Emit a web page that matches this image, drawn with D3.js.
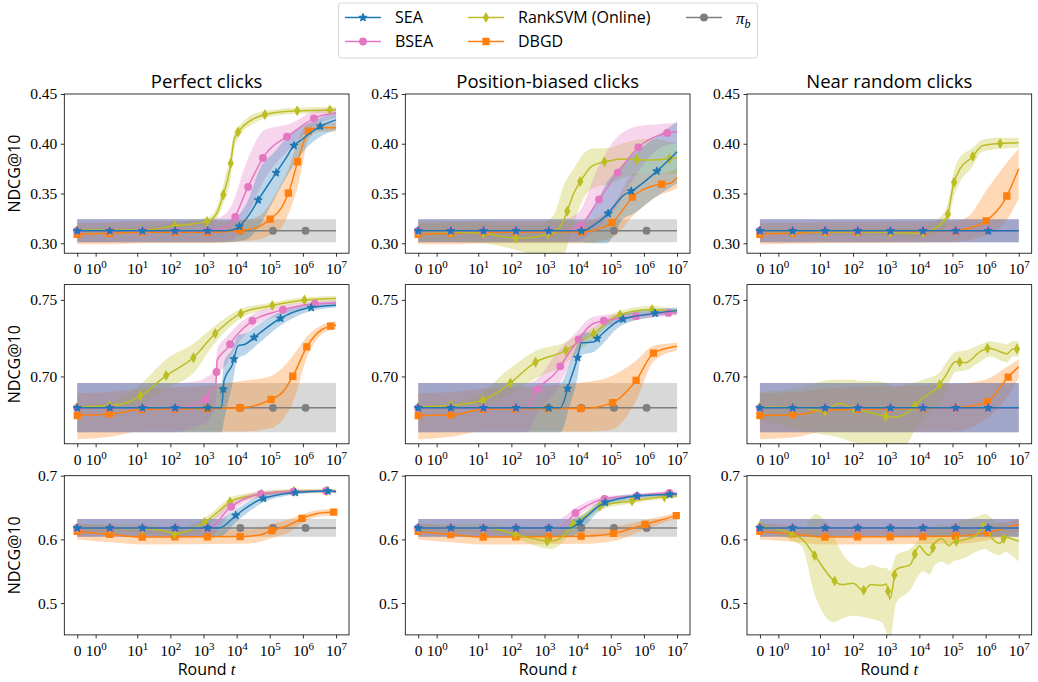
<!DOCTYPE html>
<html>
<head>
<meta charset="utf-8">
<script src="https://cdn.jsdelivr.net/npm/d3@7"></script>
<style>
  body { margin: 0; background: #fff; }
  text { fill: #000; }
</style>
</head>
<body>
<svg id="chart" width="1038" height="682"></svg>
<script>
// ---- data ----
const columns = ['Perfect clicks', 'Position-biased clicks', 'Near random clicks']
const xTicks = [0, 1, 10, 100, 1e3, 1e4, 1e5, 1e6, 1e7]
const yTicks = [[0.30, 0.35, 0.40, 0.45], [0.70, 0.75], [0.5, 0.6, 0.7]]
const yDomains = [[0.29, 0.45], [0.656, 0.76], [0.45, 0.70]]
const yFormats = ['.2f', '.2f', '.1f']

// pi_b baseline, one per row (constant over t)
const baseMean = [0.3125, 0.6795, 0.618]
const baseLo = [0.301, 0.6635, 0.604]
const baseHi = [0.324, 0.6958, 0.632]

// each row: [t, mean, lo, hi]
// row 1, perfect clicks
const sea_p1 = [[0, .3125, .301, .324], [5000, .3125, .301, .324], [1e4, .315, .302, .327], [2e4, .325, .304, .34],
  [5e4, .346, .318, .375], [1.4e5, .3685, .345, .392], [3e5, .385, .365, .405], [5.2e5, .3977, .378, .412],
  [1e6, .405, .392, .418], [2.7e6, .4158, .405, .425], [1e7, .424, .414, .432]]
const bsea_p1 = [[0, .3125, .301, .324], [1000, .3125, .301, .324], [3000, .314, .302, .326], [7.5e3, .322, .303, .34],
  [1.9e4, .3517, .325, .38], [7.2e4, .389, .365, .414], [4e5, .409, .395, .42], [2.7e6, .427, .42, .434], [1e7, .431, .426, .436]]
const rsvm_p1 = [[0, .313, .310, .316], [13, .313, .310, .316], [138, .3175, .314, .321], [1300, .322, .318, .326],
  [2500, .33, .325, .336], [3800, .347, .338, .357], [6300, .375, .362, .388], [8500, .405, .395, .412],
  [1.26e4, .414, .408, .419], [3.2e4, .425, .42, .43], [7.2e4, .4295, .426, .433], [5.2e5, .433, .43, .436], [1e7, .434, .431, .437]]
const dbgd_p1 = [[0, .309, .299, .320], [2, .310, .299, .321], [13, .311, .300, .322], [1400, .311, .300, .322],
  [1.4e4, .313, .302, .323], [5e4, .317, .304, .328], [1e5, .324, .308, .34], [2.2e5, .335, .315, .36],
  [3.7e5, .351, .33, .375], [7.4e5, .385, .36, .405], [1.5e6, .413, .405, .42], [3e6, .416, .412, .421], [1e7, .416, .412, .421]]

// row 1, position-biased clicks
const sea_b1 = [[0, .3125, .301, .324], [1.5e4, .3125, .301, .324], [3e4, .318, .30, .335], [7.3e4, .328, .30, .36],
  [2.4e5, .348, .325, .38], [5e5, .354, .33, .39], [1.95e6, .3695, .345, .405], [1e7, .392, .36, .422]]
const bsea_b1 = [[0, .3125, .301, .324], [3e3, .3125, .301, .324], [1e4, .3155, .302, .33], [4e4, .342, .315, .375],
  [1.4e5, .368, .335, .405], [7.7e5, .398, .375, .418], [4e6, .410, .398, .42], [1e7, .412, .40, .421]]
const rsvm_b1 = [[0, .312, .302, .322], [13, .310, .300, .321], [150, .305, .293, .318], [500, .306, .288, .318],
  [1e3, .3085, .285, .321], [2e3, .310, .285, .33], [4e3, .325, .29, .36], [7.6e3, .35, .32, .375],
  [1.5e4, .367, .345, .39], [2.7e4, .3775, .355, .395], [1e5, .383, .36, .396], [2.1e5, .3846, .365, .40],
  [1.5e6, .3836, .37, .405], [1e7, .386, .37, .40]]
const dbgd_b1 = [[0, .309, .299, .320], [2, .310, .299, .321], [13, .311, .300, .322], [1.4e4, .3115, .300, .322],
  [1e5, .320, .305, .335], [5.5e5, .349, .33, .37], [2.8e6, .359, .348, .37], [6e6, .360, .352, .372], [1e7, .366, .355, .376]]

// row 1, near random clicks
const sea_r1 = [[0, .3125, .301, .324], [1e7, .3125, .301, .324]]
const bsea_r1 = [[0, .3125, .301, .324], [1e7, .3125, .301, .324]]
const rsvm_r1 = [[0, .312, .309, .315], [1e3, .311, .307, .315], [1e4, .310, .306, .315], [3e4, .315, .309, .322],
  [7e4, .3275, .318, .338], [1.06e5, .3585, .345, .37], [1.7e5, .375, .362, .387], [3.8e5, .386, .376, .395],
  [8e5, .398, .392, .404], [2.8e6, .4003, .395, .406], [1e7, .401, .396, .406]]
const dbgd_r1 = [[0, .309, .299, .320], [13, .311, .300, .321], [1e5, .312, .301, .322], [3e5, .315, .303, .327],
  [1e6, .322, .308, .352], [3.7e6, .343, .32, .378], [1e7, .375, .345, .395]]

// row 2, perfect clicks
const sea_p2 = [[0, .6795, .6635, .6958], [3.5e3, .6795, .6635, .6958], [4.2e3, .6976, .672, .71], [7.5e3, .708, .695, .718],
  [1.1e4, .720, .712, .727], [1.8e4, .721, .714, .728], [3.8e4, .7264, .72, .733], [2e5, .7377, .733, .742],
  [1.3e6, .7445, .742, .747], [1e7, .7465, .745, .749]]
const bsea_p2 = [[0, .6795, .6635, .6958], [138, .6795, .6635, .6958], [700, .6824, .668, .697], [1.3e3, .686, .670, .700],
  [1.8e3, .692, .675, .702], [2.3e3, .692, .68, .705], [2.6e3, .7108, .70, .718], [5e3, .718, .708, .726],
  [1e4, .727, .72, .733], [2.7e4, .7357, .731, .740], [2e5, .743, .740, .746], [1.9e6, .7474, .745, .749], [1e7, .748, .746, .750]]
const rsvm_p2 = [[0, .680, .679, .681], [2, .6813, .679, .684], [5, .683, .680, .688], [13, .6877, .682, .695],
  [73, .7004, .692, .711], [540, .713, .703, .722], [1.9e3, .7264, .720, .732], [1.35e4, .7412, .738, .744],
  [1e5, .746, .744, .748], [1e6, .7498, .748, .7515], [1e7, .751, .749, .7525]]
const dbgd_p2 = [[0, .6745, .659, .689], [2, .6758, .661, .690], [13, .6784, .664, .692], [138, .6787, .664, .693],
  [1.4e3, .679, .664, .694], [1.4e4, .6795, .664, .697], [1e5, .6846, .666, .70], [2.5e5, .69, .672, .706],
  [5.2e5, .701, .684, .714], [1.3e6, .7192, .712, .726], [4e6, .731, .728, .734], [1e7, .7335, .731, .736]]

// row 2, position-biased clicks
const sea_b2 = [[0, .6795, .6635, .6958], [3e3, .6795, .6635, .6958], [5.6e3, .6958, .68, .708], [1e4, .7125, .70, .722],
  [1.3e4, .722, .714, .728], [3e4, .7225, .716, .729], [4e4, .725, .718, .731], [2e5, .737, .733, .741],
  [2e6, .7412, .739, .744], [1e7, .743, .741, .745]]
const bsea_b2 = [[0, .6795, .6635, .6958], [300, .6795, .6635, .6958], [570, .6905, .675, .698], [2.1e3, .702, .69, .714],
  [7.5e3, .7196, .712, .727], [3e4, .7346, .73, .739], [2e5, .738, .735, .741], [3e6, .741, .739, .743], [1e7, .742, .740, .744]]
const rsvm_b2 = [[0, .680, .679, .681], [2, .6813, .680, .683], [13.5, .6844, .681, .690], [76, .6943, .687, .704],
  [570, .7097, .699, .717], [4e3, .7165, .708, .722], [1e4, .722, .716, .727], [3e4, .728, .724, .732],
  [1.45e5, .7394, .737, .742], [1.5e6, .7438, .742, .746], [1e7, .742, .740, .744]]
const dbgd_b2 = [[0, .6745, .659, .689], [2, .675, .661, .690], [13, .6785, .664, .692], [1.4e3, .679, .664, .694],
  [1.4e4, .679, .664, .696], [1e5, .6824, .665, .70], [5.5e5, .6967, .683, .71], [2e6, .7154, .71, .72], [1e7, .7198, .717, .722]]

// row 2, near random clicks
const sea_r2 = [[0, .6795, .6635, .6958], [1e7, .6795, .6635, .6958]]
const bsea_r2 = [[0, .6795, .6635, .6958], [1e7, .6795, .6635, .6958]]
const rsvm_r2 = [[0, .680, .672, .690], [2.7, .6795, .665, .693], [12.5, .6773, .662, .697], [40, .6825, .660, .698],
  [100, .679, .657, .698], [150, .678, .656, .697], [400, .676, .655, .697], [1e3, .6738, .652, .696],
  [2e3, .6735, .650, .693], [4e3, .676, .655, .695], [7.5e3, .681, .665, .696], [1.3e4, .686, .672, .698],
  [3.8e4, .6936, .683, .702], [6e4, .700, .69, .708], [1.26e5, .7097, .703, .716], [2.5e5, .709, .704, .717],
  [7.2e5, .7165, .710, .721], [1.3e6, .7185, .713, .723], [2.5e6, .7165, .711, .722], [4.5e6, .7148, .709, .721],
  [6.5e6, .718, .713, .723], [1e7, .718, .713, .723]]
const dbgd_r2 = [[0, .6745, .659, .689], [2.7, .6753, .661, .690], [12.5, .678, .664, .692], [1e5, .6795, .664, .695],
  [1e6, .683, .672, .698], [5e6, .700, .688, .707], [1e7, .7064, .699, .711]]

// row 3, perfect clicks
const sea_p3 = [[0, .618, .604, .632], [3e3, .618, .604, .632], [1e4, .6387, .628, .648], [5e4, .6623, .655, .669],
  [5.2e5, .6733, .670, .677], [5e6, .676, .674, .678], [1e7, .675, .673, .677]]
const bsea_p3 = [[0, .618, .604, .632], [1.5e3, .618, .604, .632], [6e3, .649, .64, .658], [5e4, .671, .667, .675],
  [5.2e5, .675, .672, .678], [1e7, .676, .674, .678]]
const rsvm_p3 = [[0, .618, .612, .624], [13, .617, .611, .623], [60, .614, .607, .62], [138, .609, .603, .616],
  [400, .615, .608, .622], [1e3, .6257, .618, .632], [3e3, .645, .637, .652], [6.7e3, .66, .654, .666],
  [2e4, .667, .662, .672], [5e4, .671, .667, .675], [5.2e5, .6754, .672, .679], [1e7, .676, .673, .679]]
const dbgd_p3 = [[0, .6125, .600, .625], [2, .6073, .595, .62], [13, .6037, .592, .615], [1.4e4, .6045, .593, .615],
  [5e4, .607, .596, .618], [1e5, .6126, .601, .623], [4e5, .623, .612, .632], [1e6, .6335, .627, .64],
  [3e6, .641, .636, .646], [1e7, .643, .638, .648]]

// row 3, position-biased clicks
const sea_b3 = [[0, .618, .604, .632], [6e3, .618, .604, .632], [1e4, .6245, .61, .635], [1.6e4, .633, .62, .64],
  [5.4e4, .6555, .648, .662], [3e5, .666, .661, .670], [3e6, .670, .667, .673], [1e7, .671, .668, .674]]
const bsea_b3 = [[0, .618, .604, .632], [2.5e3, .618, .604, .632], [1e4, .644, .636, .652], [7e4, .664, .659, .668],
  [5.2e5, .668, .665, .671], [5e6, .6728, .670, .675], [1e7, .672, .670, .674]]
const rsvm_b3 = [[0, .618, .612, .624], [20, .618, .611, .624], [150, .607, .600, .614], [1.6e3, .597, .585, .608],
  [3e3, .602, .592, .613], [8e3, .6257, .617, .633], [1.3e4, .632, .625, .639], [4.7e4, .652, .646, .658],
  [4e5, .660, .656, .664], [3.6e6, .6665, .663, .67], [1e7, .668, .665, .671]]
const dbgd_b3 = [[0, .6125, .600, .625], [2, .607, .595, .62], [13, .6037, .592, .615], [1.4e4, .605, .593, .615],
  [1.4e5, .61, .598, .62], [1e6, .623, .615, .63], [1e7, .6377, .633, .642]]

// row 3, near random clicks
const sea_r3 = [[0, .618, .604, .632], [1e7, .618, .604, .632]]
const bsea_r3 = [[0, .618, .604, .632], [1e7, .618, .604, .632]]
const rsvm_r3 = [[0, .621, .612, .627], [2.7, .6016, .59, .612], [7.3, .573, .51, .64], [26, .5356, .47, .605],
  [45, .529, .475, .58], [100, .531, .48, .56], [200, .52, .478, .555], [350, .529, .475, .56], [740, .5277, .47, .555],
  [1e3, .530, .455, .555], [1.3e3, .5063, .44, .55], [2e3, .553, .50, .575], [5.2e3, .56, .52, .585], [1e4, .590, .545, .60],
  [1.3e4, .583, .55, .605], [2e4, .575, .545, .61], [3e4, .595, .56, .62], [4.7e4, .601, .565, .625], [8e4, .59, .56, .62],
  [1e5, .595, .565, .625], [2.2e5, .5995, .57, .63], [5e5, .606, .58, .635], [1e6, .622, .585, .64], [1.4e6, .605, .58, .635],
  [2.7e6, .594, .575, .625], [4e6, .604, .58, .625], [6e6, .601, .575, .62], [1e7, .597, .565, .62]]
const dbgd_r3 = [[0, .6125, .600, .625], [2.7, .6073, .595, .62], [13, .6037, .592, .615], [1e5, .605, .593, .617],
  [1e6, .61, .598, .622], [1e7, .624, .612, .632]]

// ---- styles ----
const series = [
  { key: 'sea', name: 'SEA', color: '#1f77b4', marker: 'star' },
  { key: 'bsea', name: 'BSEA', color: '#e377c2', marker: 'circle' },
  { key: 'rsvm', name: 'RankSVM (Online)', color: '#bcbd22', marker: 'diamond' },
  { key: 'dbgd', name: 'DBGD', color: '#ff7f0e', marker: 'square' }
]
const baseStyle = { color: '#7f7f7f', marker: 'circle' }

const panels = [
  [{ sea: sea_p1, bsea: bsea_p1, rsvm: rsvm_p1, dbgd: dbgd_p1 },
   { sea: sea_b1, bsea: bsea_b1, rsvm: rsvm_b1, dbgd: dbgd_b1 },
   { sea: sea_r1, bsea: bsea_r1, rsvm: rsvm_r1, dbgd: dbgd_r1 }],
  [{ sea: sea_p2, bsea: bsea_p2, rsvm: rsvm_p2, dbgd: dbgd_p2 },
   { sea: sea_b2, bsea: bsea_b2, rsvm: rsvm_b2, dbgd: dbgd_b2 },
   { sea: sea_r2, bsea: bsea_r2, rsvm: rsvm_r2, dbgd: dbgd_r2 }],
  [{ sea: sea_p3, bsea: bsea_p3, rsvm: rsvm_p3, dbgd: dbgd_p3 },
   { sea: sea_b3, bsea: bsea_b3, rsvm: rsvm_b3, dbgd: dbgd_b3 },
   { sea: sea_r3, bsea: bsea_r3, rsvm: rsvm_r3, dbgd: dbgd_r3 }]
]

const SANS = '"Open Sans", sans-serif'
const SERIF = '"Liberation Serif", serif'
const lefts = [64.3, 405.3, 747]
const tops = [94, 284.6, 475.7]
const W = 284.7, H = 159.2
const markStep = 0.1 * Math.hypot(W, H)   // markevery=0.1 along the line

// matplotlib style symlog (linthresh 2, linscale 1)
const LT = 2, LS = 1 / 0.9
const symlog = t => t <= LT ? t * LS : LT * (LS + Math.log10(t / LT))
const uMax = symlog(1e7), uPad = 0.05 * uMax

const svg = d3.select('#chart')

const markerPath = (type) => {
  if (type === 'star') return d3.symbol(d3.symbolStar, 17)()
  if (type === 'circle') return d3.symbol(d3.symbolCircle, 34)()
  if (type === 'square') return d3.symbol(d3.symbolSquare, 36)()
  return 'M0,-4.2L2.4,0L0,4.2L-2.4,0Z'   // thin diamond
}

const drawMarker = (g, type, color, x, y) => {
  g.append('path')
    .attr('d', markerPath(type))
    .attr('transform', `translate(${x},${y})`)
    .attr('fill', color)
    .attr('stroke', color)
    .attr('stroke-width', 1.3)
    .attr('stroke-linejoin', type === 'star' ? 'round' : 'miter')
}

const supLabel = (sel, t) => {
  sel.text(null)
  if (t === 0) { sel.append('tspan').text('0'); return }
  sel.append('tspan').text('10')
  sel.append('tspan').attr('dy', -6).attr('font-size', 11).text(Math.round(Math.log10(t)))
}

panels.forEach((row, r) => {
  row.forEach((pd, c) => {
    const g = svg.append('g').attr('transform', `translate(${lefts[c]},${tops[r]})`)
    const xs = d3.scaleLinear().domain([-uPad, uMax + uPad]).range([0, W])
    const x = t => xs(symlog(t))
    const y = d3.scaleLinear().domain(yDomains[r]).range([H, 0])

    const clipId = `clip-${r}-${c}`
    g.append('clipPath').attr('id', clipId).append('rect').attr('width', W).attr('height', H)
    const plot = g.append('g').attr('clip-path', `url(#${clipId})`)

    const area = d3.area().x(d => x(d[0])).y0(d => y(d[2])).y1(d => y(d[3])).curve(d3.curveMonotoneX)
    const line = d3.line().x(d => x(d[0])).y(d => y(d[1])).curve(d3.curveMonotoneX)

    const base = [[0, baseMean[r], baseLo[r], baseHi[r]], [1e7, baseMean[r], baseLo[r], baseHi[r]]]
    const layers = [{ data: base, ...baseStyle }]
    series.slice().reverse().forEach(s => layers.push({ data: pd[s.key], color: s.color, marker: s.marker }))

    // bands
    layers.forEach(l => {
      plot.append('path').attr('d', area(l.data)).attr('fill', l.color).attr('fill-opacity', 0.3)
    })
    // lines + markers
    layers.forEach(l => {
      const p = plot.append('path').attr('d', line(l.data))
        .attr('fill', 'none').attr('stroke', l.color).attr('stroke-width', 1.5)
      const node = p.node()
      const len = node.getTotalLength()
      for (let d = 0; d < len; d += markStep) {
        const pt = node.getPointAtLength(d)
        drawMarker(plot, l.marker, l.color, pt.x, pt.y)
      }
    })

    // frame
    g.append('rect').attr('width', W).attr('height', H)
      .attr('fill', 'none').attr('stroke', '#000').attr('stroke-width', 0.8)

    // axes
    const xAxis = g.append('g').attr('transform', `translate(0,${H})`)
      .call(d3.axisBottom(xs).tickValues(xTicks.map(symlog)).tickSize(3.5).tickSizeOuter(0))
    xAxis.select('.domain').remove()
    xAxis.selectAll('.tick line').attr('stroke-width', 0.8)
    xAxis.selectAll('.tick text')
      .attr('y', 21).attr('dy', null)
      .attr('font-family', SERIF).attr('font-size', 15.5)
      .each(function (d, i) { supLabel(d3.select(this), xTicks[i]) })

    const yAxis = g.append('g')
      .call(d3.axisLeft(y).tickValues(yTicks[r]).tickSize(3.5).tickPadding(3.5).tickFormat(d3.format(yFormats[r])))
    yAxis.select('.domain').remove()
    yAxis.selectAll('.tick line').attr('stroke-width', 0.8)
    yAxis.selectAll('.tick text').attr('font-family', SERIF).attr('font-size', 15.5)

    if (r === 0) {
      g.append('text').attr('x', W / 2).attr('y', -6).attr('text-anchor', 'middle')
        .attr('font-family', SANS).attr('font-size', 18.5).text(columns[c])
    }
    if (c === 0) {
      g.append('text').attr('transform', `translate(${20 - lefts[0]},${H / 2}) rotate(-90)`)
        .attr('text-anchor', 'middle').attr('font-family', SANS).attr('font-size', 16).text('NDCG@10')
    }
    if (r === 2) {
      const t = g.append('text').attr('x', W / 2).attr('y', H + 40).attr('text-anchor', 'middle')
        .attr('font-family', SANS).attr('font-size', 16)
      t.append('tspan').text('Round ')
      t.append('tspan').attr('font-family', SERIF).attr('font-style', 'italic').attr('font-size', 17).text('t')
    }
  })
})

// ---- legend ----
const leg = svg.append('g')
leg.append('rect').attr('x', 338.5).attr('y', 3).attr('width', 419).attr('height', 55).attr('rx', 3)
  .attr('fill', '#fff').attr('stroke', '#ccc').attr('stroke-width', 0.8)
const legItems = [
  { ...series[0], x: 345, y: 17.5 },
  { ...series[1], x: 345, y: 41.5 },
  { ...series[2], x: 468, y: 17.5 },
  { ...series[3], x: 468, y: 41.5 },
  { name: 'pi', ...baseStyle, x: 686, y: 17.5 }
]
legItems.forEach(it => {
  leg.append('line').attr('x1', it.x).attr('x2', it.x + 36).attr('y1', it.y).attr('y2', it.y)
    .attr('stroke', it.color).attr('stroke-width', 1.5)
  drawMarker(leg, it.marker, it.color, it.x + 18, it.y)
  const t = leg.append('text').attr('x', it.x + 50).attr('y', it.y).attr('dy', '0.36em')
    .attr('font-family', SANS).attr('font-size', 16)
  if (it.name === 'pi') {
    t.attr('font-family', SERIF).attr('font-style', 'italic').attr('font-size', 17)
    t.append('tspan').text('π')
    t.append('tspan').attr('dy', 4).attr('font-size', 12).text('b')
  } else {
    t.text(it.name)
  }
})
</script>
</body>
</html>
